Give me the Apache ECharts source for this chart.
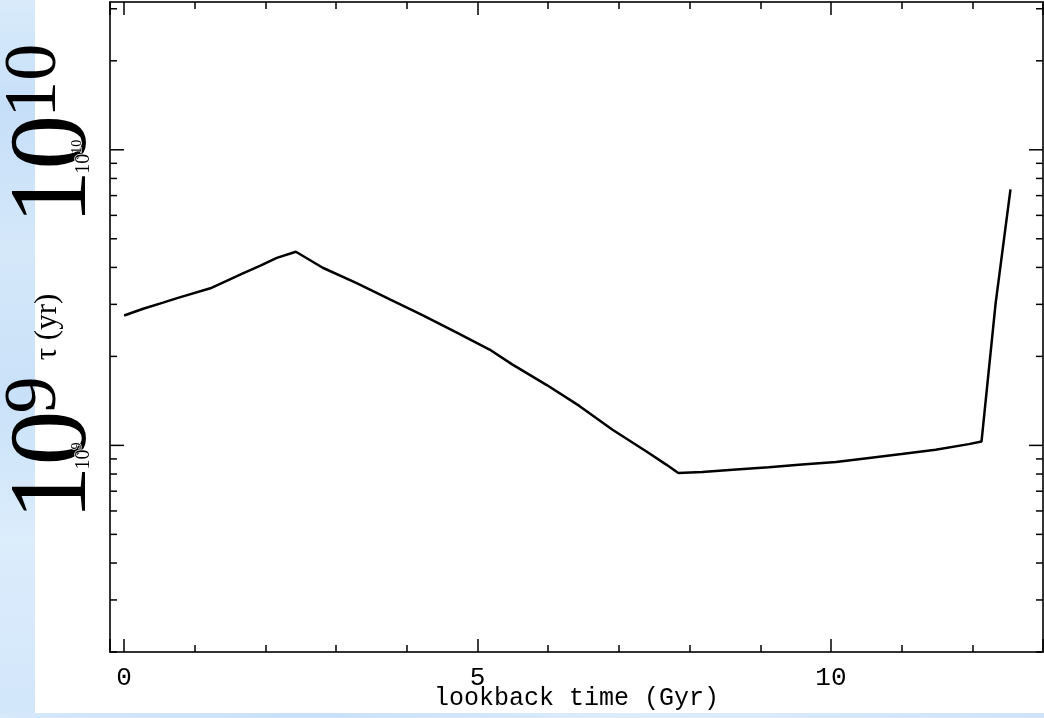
<!DOCTYPE html>
<html>
<head>
<meta charset="utf-8">
<script src="https://cdn.jsdelivr.net/npm/echarts@6/dist/echarts.min.js"></script>
<style>
html,body{margin:0;padding:0;background:#fff;}
#chart{width:1044px;height:718px;}
</style>
</head>
<body>
<div id="chart"></div>
<script>
// ---- data ----
const lookbackTime = [0.0, 0.27, 0.55, 0.75, 1.22, 1.68, 1.92, 2.16, 2.43, 2.81, 3.29, 3.76, 4.22, 4.70, 5.17, 5.49, 5.98, 6.44, 6.91, 7.39, 7.67, 7.84, 8.18, 8.66, 9.12, 9.59, 10.07, 10.54, 11.00, 11.48, 11.95, 12.13, 12.33, 12.54];
const tauYears = [2.75e9, 2.90e9, 3.04e9, 3.15e9, 3.40e9, 3.82e9, 4.05e9, 4.31e9, 4.52e9, 3.99e9, 3.54e9, 3.12e9, 2.76e9, 2.41e9, 2.11e9, 1.88e9, 1.60e9, 1.36e9, 1.13e9, 9.54e8, 8.61e8, 8.06e8, 8.13e8, 8.28e8, 8.43e8, 8.61e8, 8.79e8, 9.07e8, 9.35e8, 9.67e8, 1.01e9, 1.03e9, 3.03e9, 7.35e9];
const xRange = [-0.2, 13.0];
const yRange = [2e8, 3.1623e10];
const yMajorTicks = [1e9, 1e10];
const yMajorExponents = ['9', '10'];
const yMinorTicks = [2e8, 3e8, 4e8, 5e8, 6e8, 7e8, 8e8, 9e8, 2e9, 3e9, 4e9, 5e9, 6e9, 7e9, 8e9, 9e9, 2e10, 3e10];
const xAxisTitle = 'lookback time (Gyr)';
const yAxisTitle = 'τ (yr)';

const lineData = lookbackTime.map((t, i) => [t, tauYears[i]]);
const tickData = yMinorTicks.map(v => [xRange[0], v, 0]).concat(yMajorTicks.map(v => [xRange[0], v, 1]));
const labelData = yMajorTicks.map(v => [xRange[0], v]);

const chart = echarts.init(document.getElementById('chart'), null, {renderer: 'canvas'});
const frameColor = '#333';
const serif = '"Liberation Serif", "DejaVu Serif", serif';
const mono = '"Liberation Mono", "DejaVu Sans Mono", monospace';

const xCommon = {
  type: 'value', min: xRange[0], max: xRange[1], splitNumber: 3,
  axisLine: {show: true, onZero: false, lineStyle: {color: frameColor, width: 2}},
  axisTick: {show: true, inside: true, length: 13, lineStyle: {color: '#000', width: 1.5}},
  minorTick: {show: true, splitNumber: 5, length: 7, lineStyle: {color: '#000', width: 1.5}},
  splitLine: {show: false}, minorSplitLine: {show: false}
};
const yCommon = {
  type: 'log', logBase: 10, min: yRange[0], max: yRange[1],
  axisLine: {show: true, onZero: false, lineStyle: {color: frameColor, width: 2}},
  axisTick: {show: false}, axisLabel: {show: false}, splitLine: {show: false}, minorTick: {show: false}
};

chart.setOption({
  animation: false,
  backgroundColor: '#fff',
  graphic: [
    {type: 'rect', z: -10, silent: true, shape: {x: 0, y: 0, width: 35, height: 718},
     style: {fill: new echarts.graphic.LinearGradient(0, 0, 0.3, 1, [
       {offset: 0, color: '#d9ebfb'}, {offset: 0.15, color: '#c6dff8'}, {offset: 0.35, color: '#d5e8fa'},
       {offset: 0.55, color: '#c9e1f8'}, {offset: 0.75, color: '#dcedfc'}, {offset: 1, color: '#d2e6fa'}])}},
    {type: 'rect', z: -10, silent: true, shape: {x: 0, y: 713, width: 1044, height: 5},
     style: {fill: new echarts.graphic.LinearGradient(0, 0, 1, 0, [
       {offset: 0, color: '#d6e9fb'}, {offset: 0.3, color: '#c8e0f8'}, {offset: 0.6, color: '#dcedfc'}, {offset: 1, color: '#cfe4f9'}])}}
  ],
  grid: {left: 110, right: 1, top: 2, bottom: 66, show: false, containLabel: false, outerBoundsMode: 'none'},
  xAxis: [
    Object.assign({}, xCommon, {
      position: 'bottom',
      name: xAxisTitle, nameLocation: 'middle', nameGap: 34, nameMoveOverlap: false,
      nameTextStyle: {fontFamily: mono, fontSize: 25, color: '#000'},
      axisLabel: {show: true, margin: 13, fontFamily: mono, fontSize: 26, color: '#000', showMinLabel: false, showMaxLabel: false,
        formatter: v => (Math.abs(v - Math.round(v)) < 1e-9 && Math.round(v) % 5 === 0) ? String(Math.round(v)) : ''}
    }),
    Object.assign({}, xCommon, {position: 'top', axisLabel: {show: false}})
  ],
  yAxis: [
    Object.assign({}, yCommon, {
      position: 'left',
      name: yAxisTitle, nameLocation: 'middle', nameGap: 47, nameRotate: 90, nameMoveOverlap: false,
      nameTextStyle: {fontFamily: serif, fontSize: 31, color: '#000'}
    }),
    Object.assign({}, yCommon, {position: 'right'})
  ],
  series: [
    {
      type: 'line', data: lineData, xAxisIndex: 0, yAxisIndex: 0,
      showSymbol: false, symbol: 'none', smooth: false,
      lineStyle: {color: '#000', width: 2.5}, z: 5
    },
    {
      type: 'custom', data: tickData, xAxisIndex: 0, yAxisIndex: 0, z: 6, silent: true,
      renderItem: function (params, api) {
        const v = api.value(1);
        const len = api.value(2) ? 14 : 7;
        const pL = api.coord([xRange[0], v]);
        const pR = api.coord([xRange[1], v]);
        const st = {stroke: '#000', lineWidth: 1.5};
        return {type: 'group', children: [
          {type: 'line', shape: {x1: pL[0], y1: pL[1], x2: pL[0] + len, y2: pL[1]}, style: st},
          {type: 'line', shape: {x1: pR[0] - len, y1: pR[1], x2: pR[0], y2: pR[1]}, style: st}
        ]};
      }
    },
    {
      type: 'custom', data: labelData, xAxisIndex: 0, yAxisIndex: 0, z: 7, silent: true,
      renderItem: function (params, api) {
        const p = api.coord([xRange[0], api.value(1)]);
        const exp = yMajorExponents[params.dataIndex];
        const gx = p[0], gy = p[1];
        const rot = Math.PI / 2;
        return {type: 'group', children: [
          {type: 'text', x: gx - 54, y: gy + 75, rotation: rot,
           style: {text: '10', font: '110px ' + serif, fill: '#000', align: 'left', verticalAlign: 'middle'}},
          {type: 'text', x: gx - 74, y: gy - 32, rotation: rot,
           style: {text: exp, font: '74px ' + serif, fill: '#000', align: 'left', verticalAlign: 'middle'}},
          {type: 'text', x: gx - 26, y: gy + 24, rotation: rot,
           style: {text: '10', font: '20px ' + serif, fill: '#000', stroke: '#fff', lineWidth: 1.5, align: 'left', verticalAlign: 'middle'}},
          {type: 'text', x: gx - 33, y: gy + 4, rotation: rot,
           style: {text: exp, font: '14px ' + serif, fill: '#000', stroke: '#fff', lineWidth: 1.2, align: 'left', verticalAlign: 'middle'}}
        ]};
      }
    }
  ]
});
</script>
</body>
</html>
